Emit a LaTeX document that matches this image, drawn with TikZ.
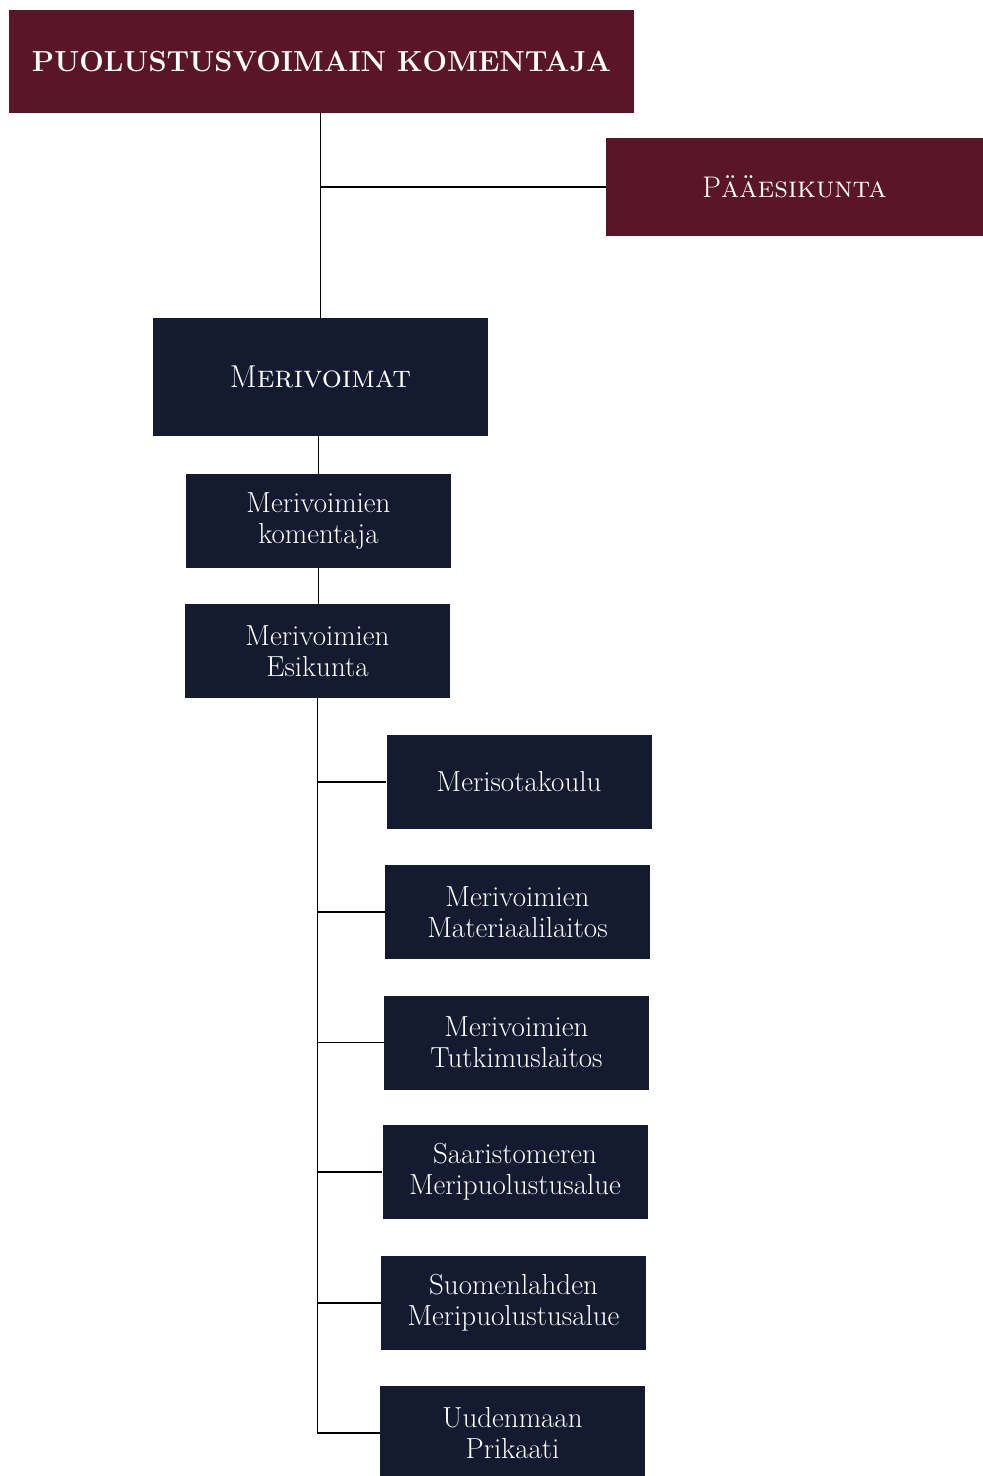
\documentclass[tikz,border=0pt]{standalone}
\usepackage{tikz}
\usetikzlibrary{positioning}
\definecolor{chiefred}{HTML}{5A1529}
\definecolor{navyblue}{HTML}{141A2F}
\tikzset{
	unitnode/.style={
			shape=rectangle,
			fill=navyblue,
			draw=none,
			text=white,
			align=center,
			inner sep=0pt,
			font=\fontsize{16.5}{17.6}\selectfont
		},
	subnode/.style={
			unitnode,
			minimum width=5.3cm,
			minimum height=1.88cm
		},
	chiefnode/.style={
			unitnode,
			fill=chiefred
		},
	linkline/.style={
			line width=1.1pt,
			draw=black
		}
}

\begin{document}
\begin{tikzpicture}
  \useasboundingbox (0,0) rectangle (19.66,-29.52);

  \node[chiefnode, minimum width=12.5cm, minimum height=2.06cm,
        font=\fontsize{16.5}{20}\selectfont\bfseries] (pvkom) at (6.43,-1.23) {PUOLUSTUSVOIMAIN KOMENTAJA};
  \node[chiefnode, minimum width=7.54cm, minimum height=1.96cm,
        font=\fontsize{17}{20}\selectfont] (paaesikunta) at (15.89,-3.74) {P\textsc{ääesikunta}};

  \node[unitnode, minimum width=6.7cm, minimum height=2.36cm,
        font=\fontsize{18}{20}\selectfont] (merivoimat) at (6.41,-7.54) {M\textsc{erivoimat}};
  \node[subnode] (mvkom) at (6.37,-10.42) {Merivoimien\\komentaja};
  \node[subnode] (mvesikunta) at (6.35,-13.02) {Merivoimien\\Esikunta};

  \node[subnode] (merisotakoulu) at (10.38,-15.64) {Merisotakoulu};
  \node[subnode] (materiaali) at (10.35,-18.24) {Merivoimien\\Materiaalilaitos};
  \node[subnode] (tutkimus) at (10.33,-20.85) {Merivoimien\\Tutkimuslaitos};
  \node[subnode] (saaristo) at (10.30,-23.44) {Saaristomeren\\Meripuolustusalue};
  \node[subnode] (suomenlahti) at (10.27,-26.06) {Suomenlahden\\Meripuolustusalue};
  \node[subnode] (uudenmaa) at (10.25,-28.66) {Uudenmaan\\Prikaati};

  % connectors
  \draw[linkline] (pvkom.south -| merivoimat.north) -- (merivoimat.north);
  \draw[linkline] (pvkom.south -| merivoimat.north) |- (paaesikunta.west);
  \draw[linkline] (merivoimat.south -| mvkom.north) -- (mvkom.north);
  \draw[linkline] (mvkom.south) -- (mvkom.south |- mvesikunta.north);

  \draw[linkline] (mvesikunta.south) |- (merisotakoulu.west);
  \draw[linkline] (mvesikunta.south) |- (materiaali.west);
  \draw[linkline] (mvesikunta.south) |- (tutkimus.west);
  \draw[linkline] (mvesikunta.south) |- (saaristo.west);
  \draw[linkline] (mvesikunta.south) |- (suomenlahti.west);
  \draw[linkline] (mvesikunta.south) |- (uudenmaa.west);

\end{tikzpicture}
\end{document}
